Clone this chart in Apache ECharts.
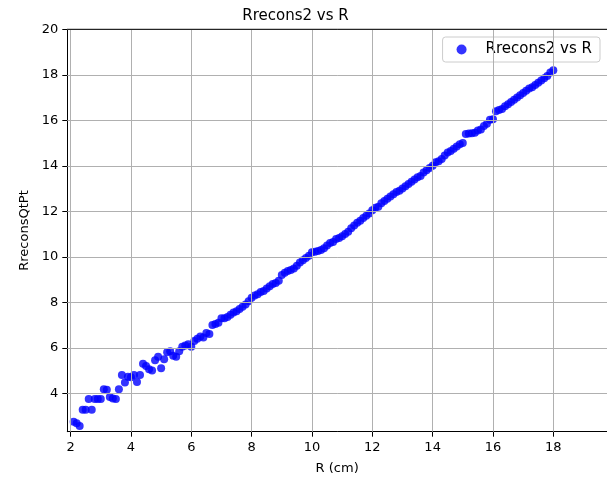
<!DOCTYPE html>
<html>
<head>
<meta charset="utf-8">
<script src="https://cdn.jsdelivr.net/npm/echarts@6/dist/echarts.min.js"></script>
<style>html,body{margin:0;padding:0;background:#fff}#c{width:607px;height:480px}</style>
</head>
<body>
<div id="c"></div>
<script>
var chartTitle = 'Rrecons2 vs R';
var seriesName = 'Rrecons2 vs R';
var xName = 'R (cm)';
var yName = 'RreconsQtPt';
var xTicks = [2, 4, 6, 8, 10, 12, 14, 16, 18];
var yTicks = [4, 6, 8, 10, 12, 14, 16, 18, 20];
var rValues = [
 2.1,2.2,2.3,2.4,2.5,2.6,2.7,2.8,2.9,3.0,
 3.1,3.2,3.3,3.4,3.5,3.6,3.7,3.8,3.9,4.0,
 4.1,4.2,4.3,4.4,4.5,4.6,4.7,4.8,4.9,5.0,
 5.1,5.2,5.3,5.4,5.5,5.6,5.7,5.8,5.9,6.0,
 6.1,6.2,6.3,6.4,6.5,6.6,6.7,6.8,6.9,7.0,
 7.1,7.2,7.3,7.4,7.5,7.6,7.7,7.8,7.9,8.0,
 8.1,8.2,8.3,8.4,8.5,8.6,8.7,8.8,8.9,9.0,
 9.1,9.2,9.3,9.4,9.5,9.6,9.7,9.8,9.9,10.0,
 10.1,10.2,10.3,10.4,10.5,10.6,10.7,10.8,10.9,11.0,
 11.1,11.2,11.3,11.4,11.5,11.6,11.7,11.8,11.9,12.0,
 12.1,12.2,12.3,12.4,12.5,12.6,12.7,12.8,12.9,13.0,
 13.1,13.2,13.3,13.4,13.5,13.6,13.7,13.8,13.9,14.0,
 14.1,14.2,14.3,14.4,14.5,14.6,14.7,14.8,14.9,15.0,
 15.1,15.2,15.3,15.4,15.5,15.6,15.7,15.8,15.9,16.0,
 16.1,16.2,16.3,16.4,16.5,16.6,16.7,16.8,16.9,17.0,
 17.1,17.2,17.3,17.4,17.5,17.6,17.7,17.8,17.9,18.0
];
var rreconsValues = [
 2.75,2.68,2.56,3.27,3.27,3.75,3.27,3.75,3.75,3.75,
 4.18,4.15,3.84,3.77,3.75,4.18,4.80,4.47,4.73,4.70,
 4.80,4.50,4.80,5.30,5.20,5.05,5.00,5.45,5.60,5.10,
 5.50,5.80,5.85,5.65,5.60,5.85,6.05,6.10,6.15,6.05,
 6.30,6.40,6.50,6.45,6.65,6.60,7.00,7.05,7.10,7.30,
 7.30,7.35,7.45,7.55,7.60,7.70,7.80,7.90,8.05,8.20,
 8.30,8.35,8.45,8.50,8.60,8.70,8.80,8.85,8.95,9.20,
 9.30,9.38,9.42,9.48,9.60,9.75,9.85,9.95,10.05,10.20,
 10.22,10.25,10.30,10.38,10.50,10.60,10.65,10.78,10.82,10.90,
 11.00,11.10,11.25,11.38,11.50,11.58,11.70,11.80,11.90,12.05,
 12.15,12.20,12.35,12.45,12.55,12.65,12.75,12.85,12.90,13.00,
 13.10,13.20,13.30,13.40,13.50,13.55,13.70,13.80,13.90,14.00,
 14.15,14.20,14.30,14.45,14.58,14.65,14.75,14.85,14.95,15.00,
 15.40,15.42,15.43,15.45,15.55,15.60,15.75,15.85,16.02,16.05,
 16.40,16.45,16.50,16.62,16.70,16.80,16.90,17.00,17.10,17.20,
 17.30,17.40,17.45,17.55,17.65,17.75,17.85,17.95,18.10,18.20
];

var pts = rValues.map(function (r, i) { return [r, rreconsValues[i]]; });
var font = 'DejaVu Sans';
var chart = echarts.init(document.getElementById('c'), null, {renderer: 'canvas'});
chart.setOption({
  animation: false,
  backgroundColor: '#ffffff',
  title: {
    text: chartTitle, left: 290.5, top: 4, textAlign: 'center',
    textStyle: {fontFamily: font, fontSize: 15, fontWeight: 'normal', color: '#000'}
  },
  legend: {
    data: [{name: seriesName, icon: 'circle'}],
    right: 7, top: 37, orient: 'vertical',
    itemWidth: 10, itemHeight: 10, itemGap: 5,
    padding: [5, 8, 5, 14],
    backgroundColor: 'rgba(255,255,255,0.8)',
    borderColor: '#cccccc', borderWidth: 1, borderRadius: 3,
    textStyle: {fontFamily: font, fontSize: 15, color: '#000', padding: [0, 0, 0, 14]}
  },
  grid: {left: 67.3, right: 0, top: 29.3, bottom: 48.3, containLabel: false},
  xAxis: {
    type: 'value', min: 1.89, max: 19.78,
    name: xName, nameLocation: 'middle', nameGap: 30,
    nameTextStyle: {fontFamily: font, fontSize: 13, color: '#000'},
    axisLine: {show: true, onZero: false, lineStyle: {color: '#000', width: 1}},
    axisTick: {show: true, inside: false, length: 5, customValues: xTicks, lineStyle: {color: '#000'}},
    axisLabel: {customValues: xTicks, margin: 9, fontFamily: font, fontSize: 13, color: '#000'},
    splitLine: {show: false}
  },
  yAxis: {
    type: 'value', min: 2.31, max: 20,
    name: yName, nameLocation: 'middle', nameGap: 35, nameRotate: 90,
    nameTextStyle: {fontFamily: font, fontSize: 13, color: '#000'},
    axisLine: {show: true, onZero: false, lineStyle: {color: '#000', width: 1}},
    axisTick: {show: true, inside: false, length: 5, customValues: yTicks, lineStyle: {color: '#000'}},
    axisLabel: {customValues: yTicks, margin: 9, fontFamily: font, fontSize: 13, color: '#000'},
    splitLine: {show: false}
  },
  series: [
    {
      name: '__grid', type: 'line', data: [], silent: true,
      markLine: {
        silent: true, symbol: 'none', label: {show: false},
        lineStyle: {color: '#b0b0b0', width: 1, type: 'solid'},
        data: xTicks.map(function (v) { return {xAxis: v}; })
          .concat(yTicks.map(function (v) { return {yAxis: v}; }))
      }
    },
    {
      name: seriesName, type: 'scatter', data: pts,
      symbol: 'circle', symbolSize: 8,
      itemStyle: {color: '#0000ff', opacity: 0.8}
    }
  ]
});
chart.setOption({
  graphic: [{
    type: 'line', shape: {x1: 67.3, y1: 29.3, x2: 607, y2: 29.3},
    style: {stroke: '#000', lineWidth: 1}, z: 10
  }]
});
</script>
</body>
</html>
